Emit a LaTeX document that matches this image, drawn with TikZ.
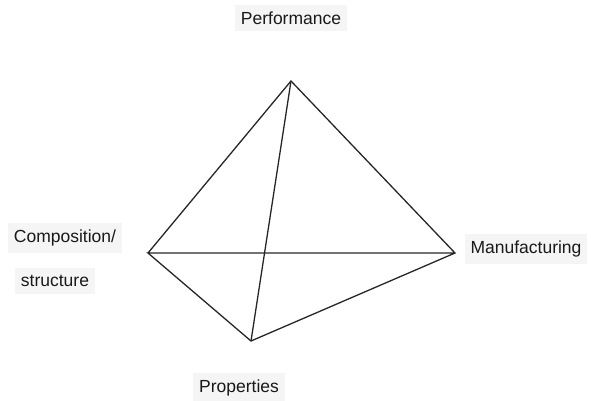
\documentclass[tikz,border=0pt]{standalone}
\usepackage{fontspec}
\setmainfont{Liberation Sans}
\begin{document}
\begin{tikzpicture}[x=1pt,y=-1pt,
  lbl/.style={fill=black!4,inner xsep=6pt,inner ysep=7pt,font=\fontsize{17.5}{20}\selectfont,text=black!90},
  edge/.style={line width=1.3pt,draw=black!85}]
\useasboundingbox (0,0) rectangle (591,400);
\coordinate (T) at (291,81);
\coordinate (L) at (148,253);
\coordinate (R) at (455,253);
\coordinate (B) at (251,341);
\draw[edge] (L) -- (T) -- (R) -- (B) -- (L) -- (R);
\draw[edge] (T) -- (B);
\node[lbl] (perf) at (291,18) {Performance};
\node[lbl] (comp) at (65,238) {Composition/};
\node[lbl] (struc) at (55,281) {structure};
\node[lbl] (manu) at (526,249) {Manufacturing};
\node[lbl] (prop) at (239,388) {Properties};
\end{tikzpicture}
\end{document}
